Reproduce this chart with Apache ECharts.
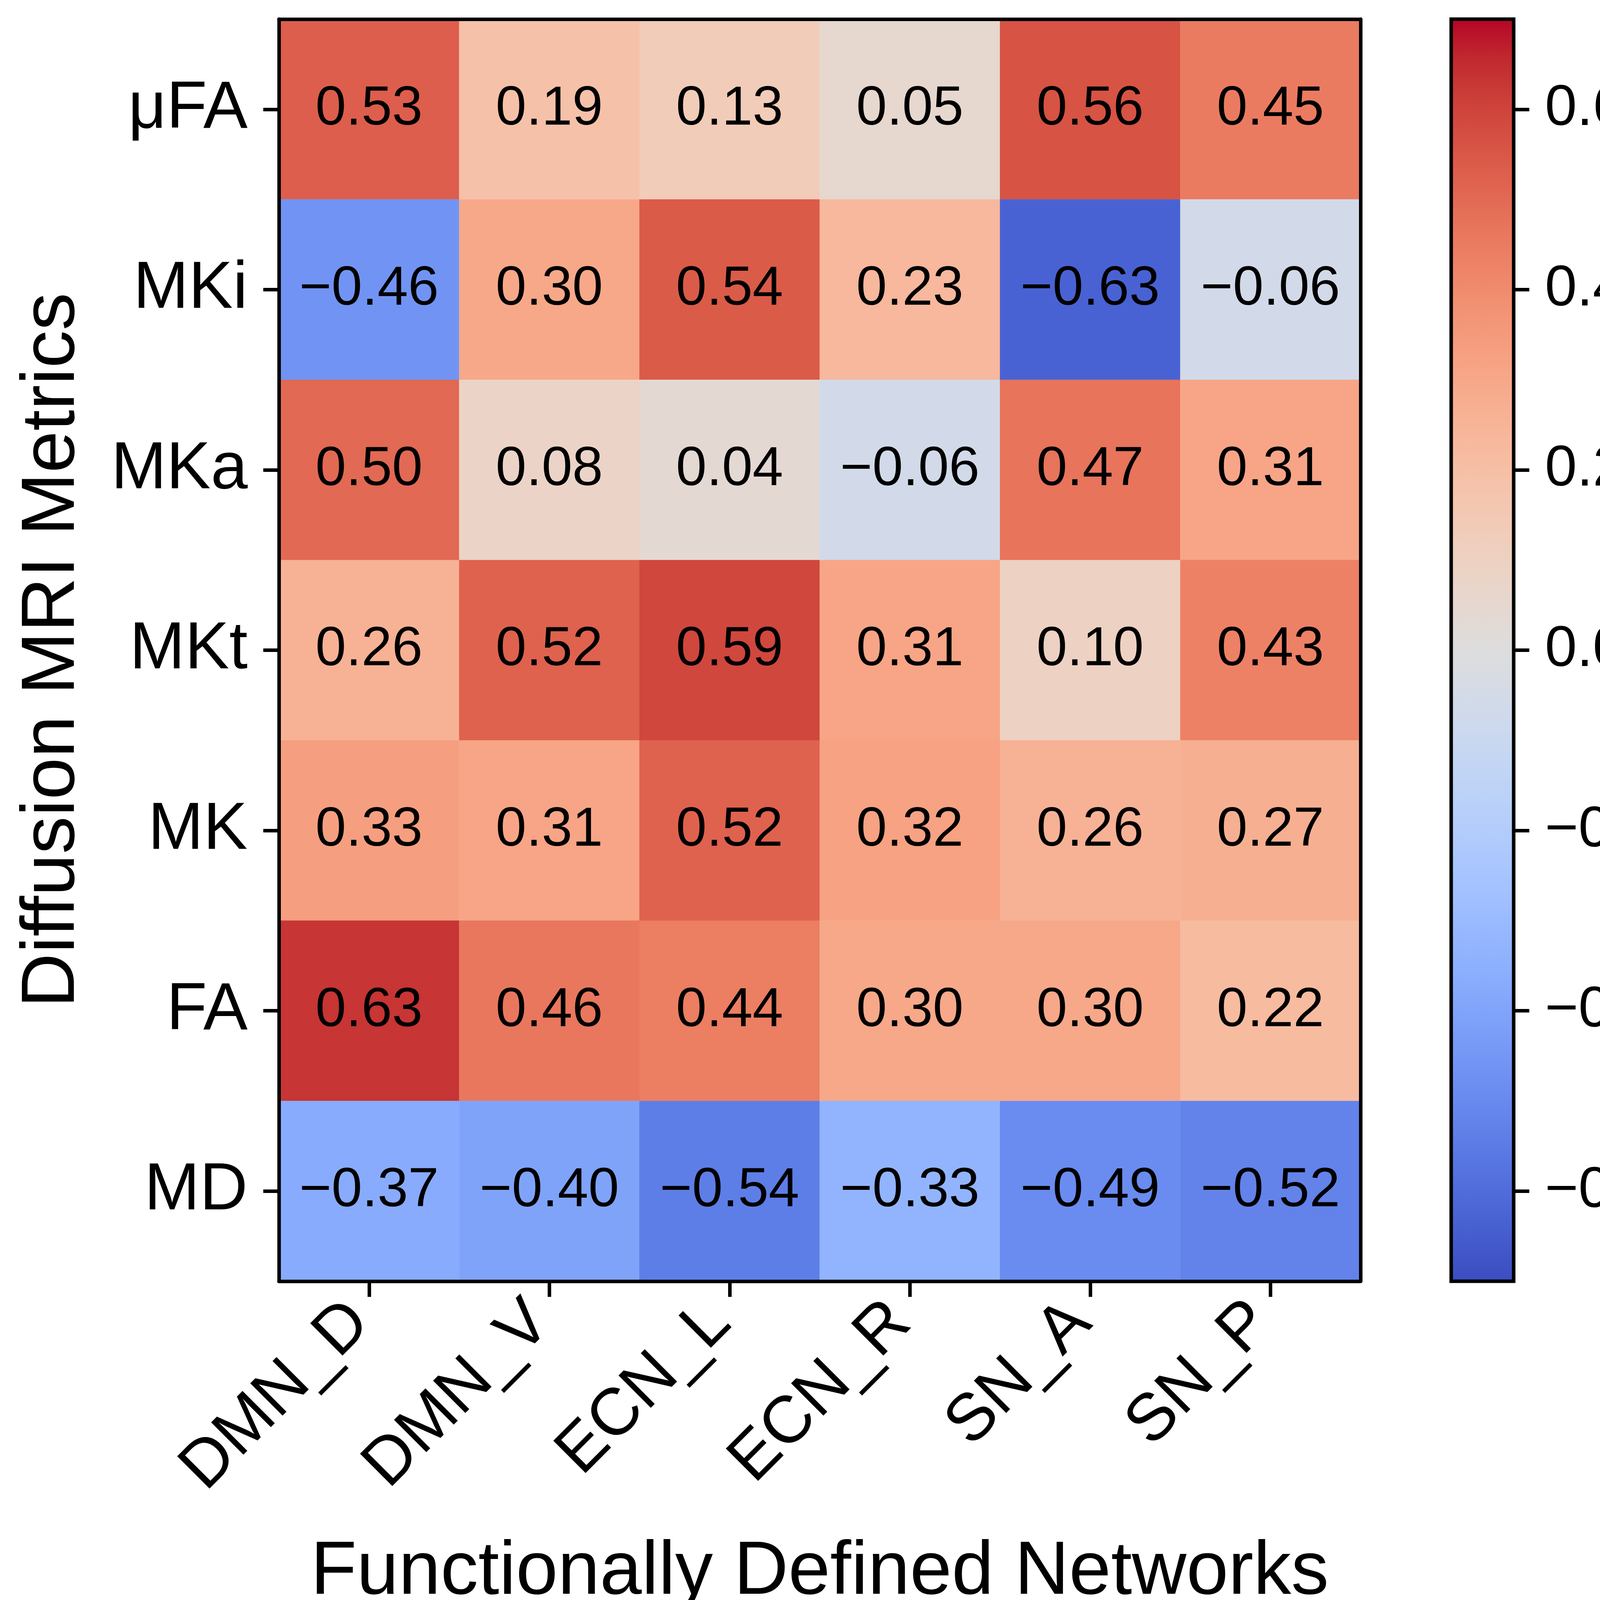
<!DOCTYPE html>
<html>
<head>
<meta charset="utf-8">
<script src="https://cdn.jsdelivr.net/npm/echarts@6/dist/echarts.min.js"></script>
<style>
html,body{margin:0;padding:0;background:#fff;}
#chart{width:4280px;height:4161px;}
</style>
</head>
<body>
<div id="chart"></div>
<script>
// ---- data ----
const networks = ['DMN_D', 'DMN_V', 'ECN_L', 'ECN_R', 'SN_A', 'SN_P'];
const metrics = ['\u03BCFA', 'MKi', 'MKa', 'MKt', 'MK', 'FA', 'MD'];
const rowMuFA = [0.53, 0.19, 0.13, 0.05, 0.56, 0.45];
const rowMKi  = [-0.46, 0.30, 0.54, 0.23, -0.63, -0.06];
const rowMKa  = [0.50, 0.08, 0.04, -0.06, 0.47, 0.31];
const rowMKt  = [0.26, 0.52, 0.59, 0.31, 0.10, 0.43];
const rowMK   = [0.33, 0.31, 0.52, 0.32, 0.26, 0.27];
const rowFA   = [0.63, 0.46, 0.44, 0.30, 0.30, 0.22];
const rowMD   = [-0.37, -0.40, -0.54, -0.33, -0.49, -0.52];
const cbMin = -0.7, cbMax = 0.7;
const cbTicks = [-0.6, -0.4, -0.2, 0.0, 0.2, 0.4, 0.6];

// matplotlib coolwarm (Moreland) sampled at 33 evenly spaced points
const coolwarm = [
 [59,76,192],[68,90,204],[77,104,215],[87,117,225],[98,130,234],[108,142,241],
 [119,154,247],[130,165,251],[141,176,254],[152,185,255],[163,194,255],[174,201,253],
 [184,208,249],[194,213,244],[204,217,238],[213,219,230],[221,221,221],[229,216,209],
 [236,211,197],[241,204,185],[245,196,173],[247,187,160],[247,177,148],[247,166,135],
 [244,154,123],[241,141,111],[236,127,99],[229,112,88],[222,96,77],[213,80,66],
 [203,62,56],[192,40,47],[180,4,38]
].map(c => 'rgb(' + c.join(',') + ')');

const rows = [rowMuFA, rowMKi, rowMKa, rowMKt, rowMK, rowFA, rowMD];
const heatData = [];
rows.forEach((r, yi) => r.forEach((v, xi) => heatData.push([xi, yi, v])));

const FONT = 'Liberation Sans, Arial, Helvetica, sans-serif';
const fmt2 = v => (v < 0 ? '\u2212' : '') + Math.abs(v).toFixed(2);
const fmt1 = v => (v < -1e-9 ? '\u2212' : '') + Math.abs(v).toFixed(1);

const LW = 9;
const chart = echarts.init(document.getElementById('chart'), null, {renderer: 'canvas', devicePixelRatio: 1});

const gradStops = coolwarm.slice().reverse().map((c, i, a) => ({offset: i / (a.length - 1), color: c}));

const option = {
  backgroundColor: '#fff',
  animation: false,
  textStyle: {fontFamily: FONT},
  grid: [
    {left: 714, top: 49, width: 2769, height: 3231, containLabel: false},
    {left: 3715, top: 49, width: 160, height: 3231, containLabel: false}
  ],
  xAxis: [
    {
      type: 'category', gridIndex: 0, position: 'bottom', data: networks, z: 10,
      axisLine: {show: true, lineStyle: {color: '#000', width: LW}},
      axisTick: {show: true, alignWithLabel: true, length: 40, lineStyle: {color: '#000', width: LW}},
      axisLabel: {show: true, interval: 0, rotate: 45, margin: 56, padding: [0, 34, 0, 0],
                  fontSize: 170, color: '#000', fontFamily: FONT},
      splitLine: {show: false},
      name: 'Functionally Defined Networks', nameLocation: 'middle', nameGap: 650,
      nameTextStyle: {fontSize: 193, color: '#000', fontFamily: FONT}
    },
    {
      type: 'category', gridIndex: 0, position: 'top', data: networks, z: 10,
      axisLine: {show: true, lineStyle: {color: '#000', width: LW}},
      axisTick: {show: false}, axisLabel: {show: false}, splitLine: {show: false}
    },
    {
      type: 'category', gridIndex: 1, data: ['cb'], show: false
    }
  ],
  yAxis: [
    {
      type: 'category', gridIndex: 0, position: 'left', data: metrics, inverse: true, z: 10,
      axisLine: {show: true, lineStyle: {color: '#000', width: LW}},
      axisTick: {show: true, alignWithLabel: true, length: 40, lineStyle: {color: '#000', width: LW}},
      axisLabel: {show: true, margin: 80, fontSize: 170, color: '#000', fontFamily: FONT},
      splitLine: {show: false},
      name: 'Diffusion MRI Metrics', nameLocation: 'middle', nameGap: 482,
      nameTextStyle: {fontSize: 193, color: '#000', fontFamily: FONT}
    },
    {
      type: 'category', gridIndex: 0, position: 'right', data: metrics, inverse: true, z: 10,
      axisLine: {show: true, lineStyle: {color: '#000', width: LW}},
      axisTick: {show: false}, axisLabel: {show: false}, splitLine: {show: false}
    },
    {
      type: 'value', gridIndex: 1, position: 'right', min: cbMin, max: cbMax, z: 10,
      axisLine: {show: false},
      axisTick: {show: true, length: 40, customValues: cbTicks, lineStyle: {color: '#000', width: LW}},
      axisLabel: {show: true, margin: 80, customValues: cbTicks, formatter: fmt1,
                  fontSize: 147, color: '#000', fontFamily: FONT},
      splitLine: {show: false}
    }
  ],
  visualMap: {
    type: 'continuous', show: false, min: cbMin, max: cbMax, seriesIndex: 0, dimension: 2,
    inRange: {color: coolwarm}
  },
  series: [
    {
      type: 'heatmap', xAxisIndex: 0, yAxisIndex: 0, data: heatData,
      label: {show: true, formatter: p => fmt2(p.value[2]), fontSize: 141, color: '#000', fontFamily: FONT},
      itemStyle: {borderWidth: 0},
      emphasis: {disabled: true}
    },
    {
      type: 'custom', xAxisIndex: 2, yAxisIndex: 2, clip: false, z: 5,
      data: [[0, cbMin, cbMax]],
      encode: {x: 0, y: [1, 2]},
      renderItem: function (params, api) {
        const top = api.coord([api.value(0), api.value(2)]);
        const bot = api.coord([api.value(0), api.value(1)]);
        const w = api.size([1, 0])[0];
        return {
          type: 'rect',
          shape: {x: top[0] - w / 2, y: top[1], width: w, height: bot[1] - top[1]},
          style: {fill: new echarts.graphic.LinearGradient(0, 0, 0, 1, gradStops), stroke: '#000', lineWidth: LW}
        };
      }
    }
  ]
};
chart.setOption(option);
</script>
</body>
</html>
